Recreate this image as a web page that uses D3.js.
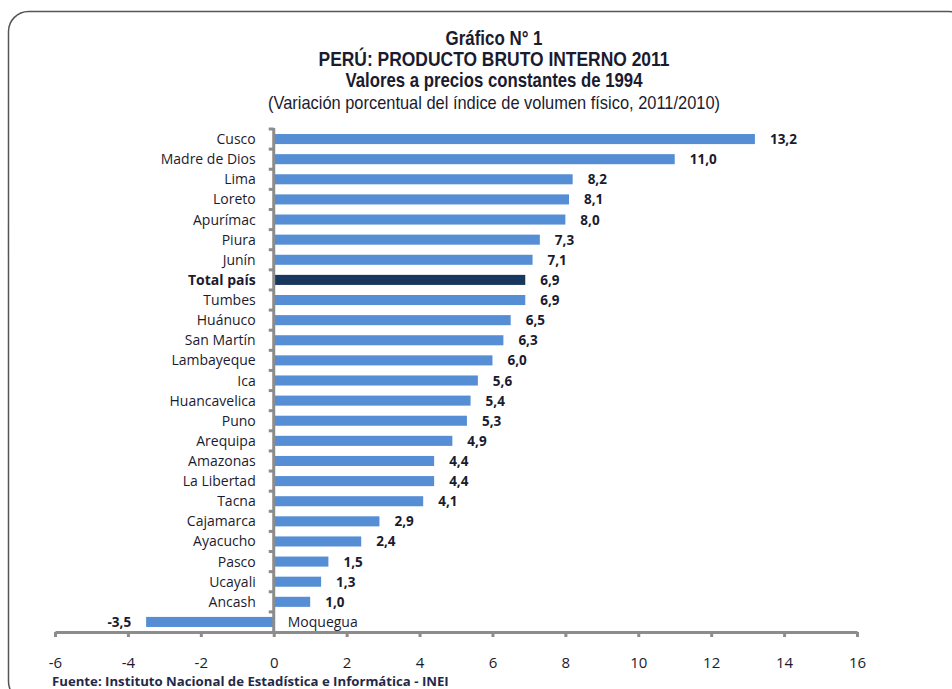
<!DOCTYPE html>
<html>
<head>
<meta charset="utf-8">
<script src="https://cdn.jsdelivr.net/npm/d3@7"></script>
<style>
  body { margin: 0; background: #fff; }
  svg text { fill: #1b1b2f; }
</style>
</head>
<body>
<svg id="chart" width="952" height="689"></svg>
<script>
// data
let regions = ["Cusco", "Madre de Dios", "Lima", "Loreto", "Apurímac", "Piura", "Junín",
  "Total país", "Tumbes", "Huánuco", "San Martín", "Lambayeque", "Ica", "Huancavelica",
  "Puno", "Arequipa", "Amazonas", "La Libertad", "Tacna", "Cajamarca", "Ayacucho",
  "Pasco", "Ucayali", "Ancash", "Moquegua"];
let growth = [13.2, 11.0, 8.2, 8.1, 8.0, 7.3, 7.1, 6.9, 6.9, 6.5, 6.3, 6.0, 5.6, 5.4,
  5.3, 4.9, 4.4, 4.4, 4.1, 2.9, 2.4, 1.5, 1.3, 1.0, -3.5];
let xTicks = [-6, -4, -2, 0, 2, 4, 6, 8, 10, 12, 14, 16];
let titleLines = ["Gráfico N° 1", "PERÚ: PRODUCTO BRUTO INTERNO 2011",
  "Valores a precios constantes de 1994",
  "(Variación porcentual del índice de volumen físico, 2011/2010)"];
let source = "Fuente: Instituto Nacional de Estadística e Informática - INEI";

let svg = d3.select("#chart");
let labelFont = "'Open Sans', 'Noto Sans', sans-serif";
let titleFont = "'Liberation Sans', Arial, sans-serif";

// frame
svg.append("rect")
  .attr("x", 8.5).attr("y", 11.5)
  .attr("width", 960).attr("height", 690)
  .attr("rx", 20).attr("ry", 20)
  .attr("fill", "none").attr("stroke", "#555").attr("stroke-width", 1.5);

// titles (narrow look: squeeze glyphs to the widths seen in the picture)
let titleY = [45, 66, 87, 109];
let titleW = [97, 351, 297, 452];
titleLines.forEach((t, i) => {
  svg.append("text")
    .attr("x", 494).attr("y", titleY[i])
    .attr("text-anchor", "middle")
    .attr("textLength", titleW[i])
    .attr("lengthAdjust", "spacingAndGlyphs")
    .style("font-family", titleFont)
    .style("font-size", i < 3 ? "21px" : "19px")
    .style("font-weight", i < 3 ? "bold" : "normal")
    .text(t);
});

let x = d3.scaleLinear().domain([-6, 16]).range([55, 857]);
let y = d3.scaleBand().domain(regions).range([129, 632]).paddingInner(0.5).paddingOuter(0.25);
let fmt = v => d3.format(".1f")(Math.abs(v)).replace(".", ",");

// bars
svg.selectAll("rect.bar")
  .data(regions)
  .enter().append("rect")
  .attr("class", "bar")
  .attr("x", (d, i) => x(Math.min(0, growth[i])))
  .attr("y", d => y(d))
  .attr("width", (d, i) => Math.abs(x(growth[i]) - x(0)))
  .attr("height", y.bandwidth())
  .attr("fill", d => d === "Total país" ? "#17375e" : "#558ed5");

// value labels
svg.selectAll("text.val")
  .data(regions)
  .enter().append("text")
  .attr("class", "val")
  .attr("x", (d, i) => growth[i] < 0 ? x(growth[i]) - 15 : x(growth[i]) + 15)
  .attr("y", d => y(d) + y.bandwidth() / 2 + 5)
  .attr("text-anchor", (d, i) => growth[i] < 0 ? "end" : "start")
  .style("font-family", labelFont)
  .style("font-size", "13.5px")
  .style("font-weight", "bold")
  .text((d, i) => (growth[i] < 0 ? "-" : "") + fmt(growth[i]));

// category labels
svg.selectAll("text.cat")
  .data(regions)
  .enter().append("text")
  .attr("class", "cat")
  .attr("x", (d, i) => growth[i] < 0 ? x(0) + 14 : x(0) - 18)
  .attr("y", d => y(d) + y.bandwidth() / 2 + 5)
  .attr("text-anchor", (d, i) => growth[i] < 0 ? "start" : "end")
  .style("font-family", labelFont)
  .style("font-size", "14px")
  .style("font-weight", d => d === "Total país" ? "bold" : "normal")
  .text(d => d);

// vertical axis with ticks between categories
let axisColor = "#8c8c8c";
svg.append("line")
  .attr("x1", x(0)).attr("x2", x(0))
  .attr("y1", 128).attr("y2", 632)
  .attr("stroke", axisColor).attr("stroke-width", 3);
let yEdges = d3.range(regions.length).map(i => 129 + i * y.step());
svg.selectAll("line.ytick")
  .data(yEdges)
  .enter().append("line")
  .attr("class", "ytick")
  .attr("x1", x(0) - 5).attr("x2", x(0))
  .attr("y1", d => d).attr("y2", d => d)
  .attr("stroke", axisColor).attr("stroke-width", 3);

// horizontal axis
let xAxis = svg.append("g")
  .attr("transform", "translate(0,632)")
  .call(d3.axisBottom(x).tickValues(xTicks).tickSize(5).tickSizeOuter(0).tickPadding(20));
xAxis.select(".domain").attr("stroke", axisColor).attr("stroke-width", 3);
xAxis.selectAll(".tick line").attr("stroke", axisColor).attr("stroke-width", 3);
xAxis.selectAll(".tick text")
  .style("font-family", labelFont)
  .style("font-size", "15px")
  .attr("fill", "#1b1b2f")
  .text(d => (d < 0 ? "-" : "") + Math.abs(d));

// source
svg.append("text")
  .attr("x", 52).attr("y", 686)
  .style("font-family", labelFont)
  .style("font-size", "13.2px")
  .style("font-weight", "bold")
  .style("fill", "#1f2a4a")
  .text(source);
</script>
</body>
</html>
